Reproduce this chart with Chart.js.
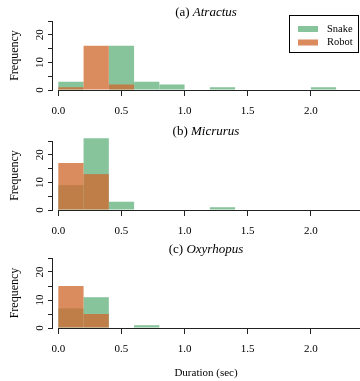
<!DOCTYPE html>
<html>
<head>
<meta charset="utf-8">
<script src="https://cdn.jsdelivr.net/npm/chart.js@4"></script>
<style>
  body { margin: 0; background: #fff; width: 360px; height: 381px; overflow: hidden; position: relative; }
  canvas { position: absolute; left: 0; }
</style>
</head>
<body>
<canvas id="panelA" width="360" height="120" style="top:0"></canvas>
<canvas id="panelB" width="360" height="120" style="top:120px"></canvas>
<canvas id="panelC" width="360" height="141" style="top:240px"></canvas>
<script>
// -----------------------------
// Data (histogram bins, 0.2 sec wide)
// -----------------------------
const binCenters = [0.1, 0.3, 0.5, 0.7, 0.9, 1.1, 1.3, 1.5, 1.7, 1.9, 2.1, 2.3];
const xTickValues = [0, 0.5, 1, 1.5, 2];
const yTickLabels = [0, 10, 20];
const seriesNames = ["Snake", "Robot"];

const atractusSnake  = [3, 0, 16, 3, 2, 0, 1, 0, 0, 0, 1, 0];
const atractusRobot  = [1, 16, 2, 0, 0, 0, 0, 0, 0, 0, 0, 0];
const micrurusSnake  = [9, 26, 3, 0, 0, 0, 1, 0, 0, 0, 0, 0];
const micrurusRobot  = [17, 13, 0, 0, 0, 0, 0, 0, 0, 0, 0, 0];
const oxyrhopusSnake = [7, 11, 0, 1, 0, 0, 0, 0, 0, 0, 0, 0];
const oxyrhopusRobot = [15, 5, 0, 0, 0, 0, 0, 0, 0, 0, 0, 0];

const SNAKE_COLOR = "rgb(135,195,155)";
const ROBOT_COLOR = "rgba(208,106,47,0.77)";
const SERIF = "'Liberation Serif', 'DejaVu Serif', serif";
const AXIS_COLOR = "#222";

// -----------------------------
// Plugins
// -----------------------------
const panelTitle = {
    id: "panelTitle",
    afterDraw(chart, args, opts) {
        const ctx = chart.ctx;
        const cx = (chart.chartArea.left + chart.chartArea.right) / 2;
        ctx.save();
        ctx.fillStyle = "#000";
        ctx.textBaseline = "middle";
        ctx.textAlign = "left";
        ctx.font = `13px ${SERIF}`;
        const w1 = ctx.measureText(opts.prefix).width;
        ctx.font = `italic 13px ${SERIF}`;
        const w2 = ctx.measureText(opts.species).width;
        const x0 = cx - (w1 + w2) / 2;
        ctx.font = `13px ${SERIF}`;
        ctx.fillText(opts.prefix, x0, opts.y);
        ctx.font = `italic 13px ${SERIF}`;
        ctx.fillText(opts.species, x0 + w1, opts.y);
        ctx.restore();
    }
};

// x axis line from 0.0 to the right edge
const baseLine = {
    id: "baseLine",
    afterDatasetsDraw(chart) {
        const ctx = chart.ctx;
        const xs = chart.scales.x, ys = chart.scales.y;
        const y = Math.round(ys.getPixelForValue(0)) + 0.5;
        ctx.save();
        ctx.strokeStyle = AXIS_COLOR;
        ctx.lineWidth = 1;
        ctx.beginPath();
        ctx.moveTo(xs.getPixelForValue(0), y);
        ctx.lineTo(chart.chartArea.right, y);
        ctx.stroke();
        ctx.restore();
    }
};

const boxLegend = {
    id: "boxLegend",
    afterDraw(chart, args, opts) {
        if (!opts.show) return;
        const ctx = chart.ctx;
        ctx.save();
        ctx.strokeStyle = "#000";
        ctx.lineWidth = 1;
        ctx.strokeRect(289.5, 15.5, 69, 37);
        ctx.font = `10.5px ${SERIF}`;
        ctx.textBaseline = "middle";
        ctx.fillStyle = "#000";
        chart.data.datasets.forEach((ds, i) => {
            const y = 29 + i * 13.5;
            ctx.fillStyle = ds.backgroundColor;
            ctx.fillRect(298, y - 3, 20, 6);
            ctx.fillStyle = "#000";
            ctx.fillText(ds.label, 327, y);
        });
        ctx.restore();
    }
};

// -----------------------------
// Panel builder
// -----------------------------
function toPoints(counts) {
    // empty bins are left out so no sliver is drawn on the base line
    return binCenters.map((x, i) => ({ x, y: counts[i] || null }));
}

function makePanel(canvasId, prefix, species, snake, robot, cfg) {
    const ctx = document.getElementById(canvasId).getContext("2d");
    return new Chart(ctx, {
        type: "bar",
        data: {
            datasets: [
                { label: seriesNames[0], data: toPoints(snake), backgroundColor: SNAKE_COLOR, order: 1 },
                { label: seriesNames[1], data: toPoints(robot), backgroundColor: ROBOT_COLOR, order: 0 }
            ]
        },
        options: {
            responsive: false,
            animation: false,
            devicePixelRatio: 1,
            layout: { padding: { top: cfg.top, right: 0, left: 0, bottom: 0 } },
            datasets: {
                bar: {
                    barPercentage: 1, categoryPercentage: 1, grouped: false,
                    borderWidth: 0, inflateAmount: 0, clip: false
                }
            },
            scales: {
                x: {
                    type: "linear",
                    offset: false,
                    min: -0.05,
                    max: 2.389,
                    afterBuildTicks: s => { s.ticks = xTickValues.map(v => ({ value: v })); },
                    afterFit: s => { s.height = cfg.xHeight; },
                    ticks: {
                        autoSkip: false, maxRotation: 0, padding: 9, color: "#000",
                        font: { family: SERIF, size: 11 },
                        callback: v => Number(v).toFixed(1)
                    },
                    grid: { offset: false, drawOnChartArea: false, drawTicks: true, tickLength: 6, color: AXIS_COLOR },
                    border: { display: false },
                    title: {
                        display: cfg.xTitle, text: "Duration (sec)", color: "#000",
                        font: { family: SERIF, size: 11 }, padding: { top: 0, bottom: 1 }
                    }
                },
                y: {
                    min: 0,
                    max: 25,
                    afterFit: s => { s.width = 52; },
                    ticks: {
                        stepSize: 5, autoSkip: false, minRotation: 90, maxRotation: 90,
                        crossAlign: "center", padding: 2, color: "#000",
                        font: { family: SERIF, size: 11 },
                        callback: v => (yTickLabels.includes(v) ? String(v) : "")
                    },
                    grid: { drawOnChartArea: false, drawTicks: true, tickLength: 4, color: AXIS_COLOR },
                    border: { display: true, color: AXIS_COLOR },
                    title: {
                        display: true, text: "Frequency", color: "#000",
                        font: { family: SERIF, size: 12 }, padding: { top: 8, bottom: 0 }
                    }
                }
            },
            plugins: {
                legend: { display: false },
                tooltip: { enabled: false },
                panelTitle: { prefix: prefix, species: species, y: cfg.titleY },
                boxLegend: { show: cfg.legend }
            }
        },
        plugins: [panelTitle, baseLine, boxLegend]
    });
}

makePanel("panelA", "(a) ", "Atractus", atractusSnake, atractusRobot,
    { top: 21, xHeight: 30, titleY: 13, legend: true, xTitle: false });
makePanel("panelB", "(b) ", "Micrurus", micrurusSnake, micrurusRobot,
    { top: 21, xHeight: 30, titleY: 12, legend: false, xTitle: false });
makePanel("panelC", "(c) ", "Oxyrhopus", oxyrhopusSnake, oxyrhopusRobot,
    { top: 18, xHeight: 53, titleY: 10, legend: false, xTitle: true });
</script>
</body>
</html>
